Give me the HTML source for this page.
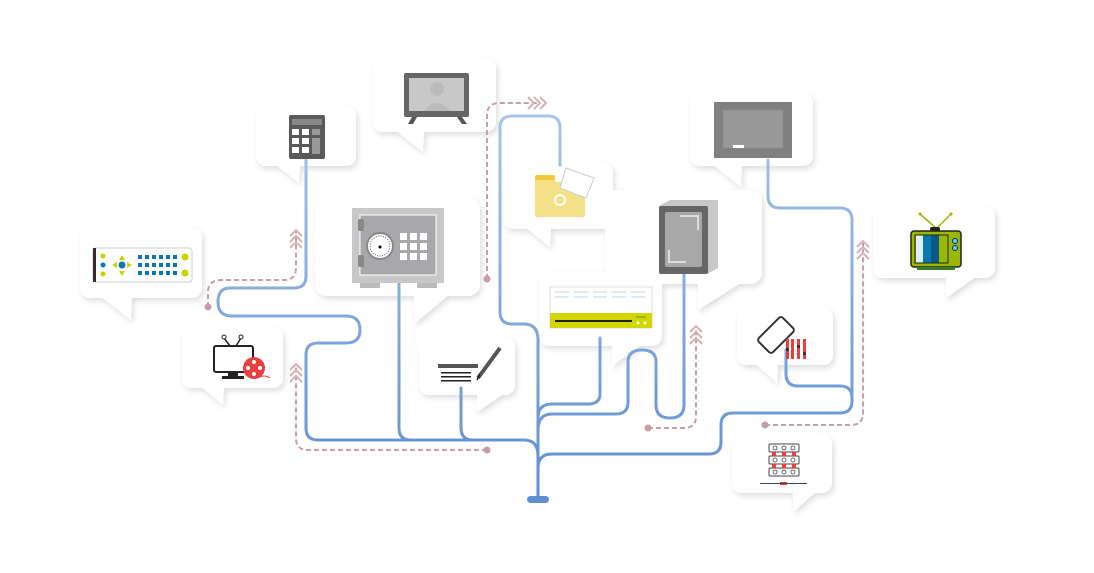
<!DOCTYPE html>
<html><head><meta charset="utf-8"><style>
html,body{margin:0;padding:0;background:#fff;}
svg{display:block;}
</style></head><body>
<svg width="1094" height="573" viewBox="0 0 1094 573" xmlns="http://www.w3.org/2000/svg">
<defs>
<filter id="sh" x="-20%" y="-20%" width="140%" height="150%"><feDropShadow dx="2" dy="3" stdDeviation="3" flood-color="#000" flood-opacity="0.13"/></filter>
<linearGradient id="bl" gradientUnits="userSpaceOnUse" x1="0" y1="100" x2="0" y2="500"><stop offset="0" stop-color="#a9c8e8"/><stop offset="1" stop-color="#5f8ed0"/></linearGradient>
</defs>
<g fill="#fff" filter="url(#sh)">
<g><rect x="80" y="228" width="122" height="70" rx="10"/><polygon points="100,296 132,296 131,320"/></g>
<g><rect x="256" y="106" width="100" height="60" rx="10"/><polygon points="275,164 300,164 299,183"/></g>
<g><rect x="373" y="59" width="123" height="73" rx="10"/><polygon points="395,130 424,130 423,152"/></g>
<g><rect x="315" y="197" width="165" height="99" rx="12"/><polygon points="414,294 450,294 414,324"/></g>
<g><rect x="182" y="327" width="101" height="61" rx="10"/><polygon points="200,386 224,386 223,405"/></g>
<g><rect x="419" y="337" width="96" height="58" rx="10"/><polygon points="477,393 505,393 477,412"/></g>
<g><rect x="503" y="163" width="110" height="66" rx="10"/><polygon points="525,227 551,227 550,247"/></g>
<g><rect x="605" y="190" width="157" height="94" rx="12"/><polygon points="698,282 742,282 698,310"/></g>
<g><rect x="539" y="272" width="123" height="74" rx="10"/><polygon points="612,344 642,344 612,366"/></g>
<g><rect x="690" y="93" width="123" height="73" rx="10"/><polygon points="712,164 742,164 741,187"/></g>
<g><rect x="873" y="206" width="122" height="72" rx="10"/><polygon points="946,276 977,276 946,298"/></g>
<g><rect x="737" y="308" width="96" height="57" rx="10"/><polygon points="755,363 778,363 777,383"/></g>
<g><rect x="732" y="434" width="100" height="59" rx="10"/><polygon points="793,491 817,491 793,512"/></g>
</g>

<!-- pink dashed -->
<g fill="none" stroke="#c99ca6" stroke-width="2" stroke-dasharray="5,3">
<path d="M208,307 L208,292 Q208,280 222,280 L284,280 Q296,280 296,268 L296,232"/>
<path d="M487,279 L487,115 Q487,103 500,103 L540,103"/>
<path d="M487,450 L308,450 Q296,450 296,438 L296,366"/>
<path d="M648,428 L684,428 Q696,428 696,416 L696,328"/>
<path d="M765,425 L851,425 Q863,425 863,413 L863,243"/>
</g>
<g fill="#c99ca6"><circle cx="208" cy="307" r="3.5"/><circle cx="487" cy="279" r="3.5"/><circle cx="487" cy="450" r="3.5"/><circle cx="648" cy="428" r="3.5"/><circle cx="765" cy="425" r="3.5"/></g>
<g fill="none" stroke="#d4b0b8" stroke-width="2">
<path d="M290,236 l6,-6 l6,6 M290,242 l6,-6 l6,6 M290,248 l6,-6 l6,6"/>
<path d="M290,370 l6,-6 l6,6 M290,376 l6,-6 l6,6 M290,382 l6,-6 l6,6"/>
<path d="M690,332 l6,-6 l6,6 M690,338 l6,-6 l6,6 M690,344 l6,-6 l6,6"/>
<path d="M857,247 l6,-6 l6,6 M857,253 l6,-6 l6,6 M857,259 l6,-6 l6,6"/>
<path d="M528,97 l6,6 l-6,6 M534,97 l6,6 l-6,6 M540,97 l6,6 l-6,6"/>
</g>

<!-- blue lines -->
<g fill="none" stroke="url(#bl)" stroke-width="3" stroke-linecap="round">
<path d="M306,160 L306,276 Q306,288 294,288 L230,288 Q218,288 218,302 Q218,316 232,316 L346,316 Q360,316 360,330 Q360,343 346,343 L318,343 Q306,343 306,355 L306,428 Q306,440 318,440 L524,440 Q538,440 538,456"/>
<path d="M399,283 L399,428 Q399,440 411,440"/>
<path d="M461,388 L461,428 Q461,440 473,440"/>
<path d="M560,165 L560,128 Q560,116 548,116 L512,116 Q500,116 500,128 L500,312 Q500,324 512,324 L524,324 Q538,324 538,340 L538,498"/>
<path d="M600,338 L600,394 Q600,404 588,404 L552,404 Q538,404 538,418"/>
<path d="M538,430 Q538,414 552,414 L616,414 Q628,414 628,402 L628,362 Q628,350 642,350 Q656,350 656,362 L656,405 Q656,418 670,418 Q684,418 684,405 L684,275"/>
<path d="M768,160 L768,196 Q768,208 780,208 L840,208 Q852,208 852,220 L852,401 Q852,413 840,413 L733,413 Q721,413 721,425 L721,442 Q721,454 709,454 L552,454 Q538,454 538,468"/>
<path d="M786,350 L786,374 Q786,386 798,386 L840,386 Q852,386 852,398"/>
</g>
<rect x="527" y="496" width="22" height="7" rx="3.5" fill="#5f8ed0"/>

<!-- icons -->
<!-- remote -->
<rect x="93" y="248" width="99" height="34" rx="3" fill="#fff" stroke="#ccc"/>
<rect x="93" y="248" width="3" height="34" fill="#3a2a2a"/>
<g fill="#c8d400"><circle cx="103" cy="256" r="2.5"/><circle cx="103" cy="274" r="2.5"/><circle cx="185" cy="257" r="3.5"/><circle cx="185" cy="273" r="3.5"/><polygon points="122,255 119,260 125,260"/><polygon points="122,276 119,271 125,271"/><polygon points="112,265 117,262 117,268"/><polygon points="132,265 127,262 127,268"/></g>
<g fill="#0a78b0"><circle cx="103" cy="265" r="2.5"/><circle cx="122" cy="265" r="3.5"/></g>
<g fill="#0a78b0">
<rect x="138" y="255" width="4" height="4"/><rect x="145" y="255" width="4" height="4"/><rect x="152" y="255" width="4" height="4"/><rect x="159" y="255" width="4" height="4"/><rect x="166" y="255" width="4" height="4"/><rect x="173" y="255" width="4" height="4"/>
<rect x="138" y="263" width="4" height="4"/><rect x="145" y="263" width="4" height="4"/><rect x="152" y="263" width="4" height="4"/><rect x="159" y="263" width="4" height="4"/><rect x="166" y="263" width="4" height="4"/><rect x="173" y="263" width="4" height="4"/>
<rect x="138" y="271" width="4" height="4"/><rect x="145" y="271" width="4" height="4"/><rect x="152" y="271" width="4" height="4"/><rect x="159" y="271" width="4" height="4"/><rect x="166" y="271" width="4" height="4"/><rect x="173" y="271" width="4" height="4"/>
</g>
<!-- calculator -->
<rect x="289" y="115" width="36" height="44" rx="2" fill="#5a5a5a"/>
<rect x="292" y="119" width="30" height="6" fill="#888"/>
<g fill="#fff"><rect x="292" y="129" width="7" height="6"/><rect x="302" y="129" width="7" height="6"/><rect x="292" y="138" width="7" height="6"/><rect x="302" y="138" width="7" height="6"/><rect x="292" y="147" width="7" height="6"/><rect x="302" y="147" width="7" height="6"/></g>
<rect x="312" y="129" width="8" height="6" fill="#999"/><rect x="312" y="138" width="8" height="16" fill="#999"/>
<!-- tv monitor -->
<rect x="404" y="73" width="65" height="44" rx="2" fill="#666"/>
<rect x="409" y="78" width="55" height="33" fill="#c8c8c8"/>
<circle cx="437" cy="89" r="7" fill="#bbb"/><path d="M424,111 Q437,95 450,111Z" fill="#bbb"/>
<polygon points="412,117 417,117 413,124 408,124" fill="#555"/><polygon points="457,117 462,117 467,124 462,124" fill="#555"/>
<!-- safe -->
<rect x="352" y="208" width="92" height="75" fill="#c8c8c8"/>
<rect x="360" y="215" width="76" height="60" fill="#a8a8ac" stroke="#fff" stroke-width="1"/>
<rect x="358" y="219" width="6" height="12" rx="2" fill="#888"/><rect x="358" y="255" width="6" height="12" rx="2" fill="#888"/>
<circle cx="380" cy="246" r="13" fill="#fff" stroke="#888" stroke-width="2"/><circle cx="380" cy="246" r="10" fill="#fff" stroke="#555" stroke-width="1" stroke-dasharray="1,1.5"/><circle cx="380" cy="247" r="1.5" fill="#000"/>
<g fill="#fff"><rect x="400" y="233" width="7" height="7"/><rect x="410" y="233" width="7" height="7"/><rect x="420" y="233" width="7" height="7"/><rect x="400" y="243" width="7" height="7"/><rect x="410" y="243" width="7" height="7"/><rect x="420" y="243" width="7" height="7"/><rect x="400" y="253" width="7" height="7"/><rect x="410" y="253" width="7" height="7"/><rect x="420" y="253" width="7" height="7"/></g>
<rect x="360" y="283" width="20" height="5" fill="#bbb"/><rect x="417" y="283" width="20" height="5" fill="#bbb"/>
<!-- tv reel -->
<rect x="214" y="346" width="39" height="26" rx="2" fill="#fff" stroke="#222" stroke-width="2"/>
<rect x="228" y="372" width="10" height="4" fill="#222"/><rect x="222" y="376" width="22" height="3" fill="#222"/>
<path d="M224,338 L230,346 M241,338 L236,346" stroke="#222" stroke-width="1.5"/><circle cx="224" cy="337" r="2" fill="#fff" stroke="#222"/><circle cx="241" cy="337" r="2" fill="#fff" stroke="#222"/>
<circle cx="254" cy="368" r="11" fill="#e84040"/><g fill="#fff"><circle cx="254" cy="362" r="2"/><circle cx="254" cy="374" r="2"/><circle cx="248" cy="368" r="2"/><circle cx="260" cy="368" r="2"/></g>
<path d="M258,378 Q264,374 270,378" stroke="#e84040" fill="none"/>
<!-- pen doc -->
<rect x="438" y="364" width="40" height="4" fill="#555"/>
<g fill="#222"><rect x="441" y="372" width="30" height="1.5"/><rect x="441" y="376" width="30" height="1.5"/><rect x="441" y="380" width="30" height="1.5"/></g>
<path d="M478,378 L500,348" stroke="#555" stroke-width="4"/><path d="M477,380 L480,374" stroke="#222" stroke-width="1.5"/>
<!-- folder -->
<path d="M535,178 L554,178 L556,182 L585,182 L585,215 Q585,217 583,217 L537,217 Q535,217 535,215Z" fill="#f5e08a"/>
<rect x="535" y="175" width="20" height="5" rx="2" fill="#f4c63a"/>
<polygon points="566,168 594,178 586,198 560,188" fill="#fff" stroke="#ccc"/>
<circle cx="560" cy="200" r="5" fill="none" stroke="#fff" stroke-width="2"/>
<!-- tablet -->
<polygon points="659,206 670,200 718,200 718,268 707,274" fill="#c8c8c8"/>
<rect x="659" y="206" width="49" height="68" rx="2" fill="#666"/>
<rect x="665" y="212" width="37" height="55" rx="2" fill="#a8a8a8"/>
<path d="M680,216 L698,216 L698,230 M669,250 L669,262 L686,262" fill="none" stroke="#ddd" stroke-width="2"/>
<!-- printer/ac -->
<rect x="550" y="287" width="102" height="41" fill="#fff" stroke="#ddd"/>
<g stroke="#cfe6f7" stroke-width="1.5"><path d="M555,292 h14 M574,292 h14 M593,292 h14 M612,292 h14 M631,292 h14 M555,297 h14 M574,297 h14 M593,297 h14 M612,297 h14 M631,297 h14"/></g>
<rect x="550" y="313" width="102" height="15" fill="#d2d600"/>
<rect x="555" y="320" width="77" height="2" fill="#222"/><circle cx="638" cy="323" r="1.5" fill="#fff"/><circle cx="645" cy="323" r="1.5" fill="#fff"/><rect x="636" y="316" width="10" height="2" fill="#9ab800"/>
<!-- monitor TR -->
<rect x="714" y="102" width="78" height="56" fill="#808080"/>
<rect x="723" y="110" width="60" height="38" fill="#999" stroke="#8a8a8a"/>
<rect x="733" y="145" width="11" height="3" fill="#fff"/>
<!-- retro tv -->
<path d="M920,214 L936,228 M951,214 L937,228" stroke="#9ab800" stroke-width="1.5"/><circle cx="920" cy="214" r="1.5" fill="#9ab800"/><circle cx="951" cy="214" r="1.5" fill="#9ab800"/>
<rect x="930" y="227" width="10" height="5" rx="2" fill="#222"/>
<rect x="911" y="231" width="50" height="36" rx="3" fill="#9ab800" stroke="#222" stroke-width="1.5"/>
<rect x="916" y="235" width="7" height="28" fill="#def"/><rect x="923" y="235" width="8" height="28" fill="#0a78b0"/><rect x="931" y="235" width="8" height="28" fill="#075a85"/><rect x="939" y="235" width="8" height="28" fill="#9ab800"/>
<rect x="915" y="235" width="33" height="28" fill="none" stroke="#222"/>
<circle cx="955" cy="241" r="2.5" fill="#6cf" stroke="#036"/><circle cx="955" cy="248" r="2.5" fill="#6cf" stroke="#036"/>
<rect x="917" y="267" width="38" height="3" fill="#3a7a2a"/>
<!-- phone -->
<rect x="766" y="318" width="20" height="34" rx="3" transform="rotate(45 776 335)" fill="#fff" stroke="#333" stroke-width="2"/>
<g fill="#e84040"><rect x="786" y="339" width="3" height="20"/><rect x="791" y="339" width="3" height="20"/><rect x="797" y="339" width="3" height="20"/><rect x="803" y="339" width="3" height="20"/></g>
<g fill="#333"><rect x="786" y="348" width="3" height="3"/><rect x="797" y="345" width="3" height="3"/><rect x="803" y="352" width="3" height="3"/></g>
<!-- server -->
<g fill="#fff" stroke="#444" stroke-width="1"><rect x="769" y="444" width="30" height="8" rx="1"/><rect x="769" y="456" width="30" height="8" rx="1"/><rect x="769" y="468" width="30" height="8" rx="1"/></g>
<g fill="none" stroke="#444" stroke-width="0.8"><circle cx="775" cy="448" r="2"/><circle cx="784" cy="448" r="2"/><circle cx="793" cy="448" r="2"/><circle cx="775" cy="460" r="2"/><circle cx="784" cy="460" r="2"/><circle cx="793" cy="460" r="2"/><circle cx="775" cy="472" r="2"/><circle cx="784" cy="472" r="2"/><circle cx="793" cy="472" r="2"/></g>
<g fill="#e84040"><rect x="772" y="452" width="4" height="4"/><rect x="782" y="452" width="4" height="4"/><rect x="792" y="452" width="4" height="4"/><rect x="772" y="464" width="4" height="4"/><rect x="782" y="464" width="4" height="4"/><rect x="792" y="464" width="4" height="4"/><rect x="780" y="482" width="7" height="3"/></g>
<rect x="760" y="483" width="47" height="1" fill="#444"/>
</svg>
</body></html>
